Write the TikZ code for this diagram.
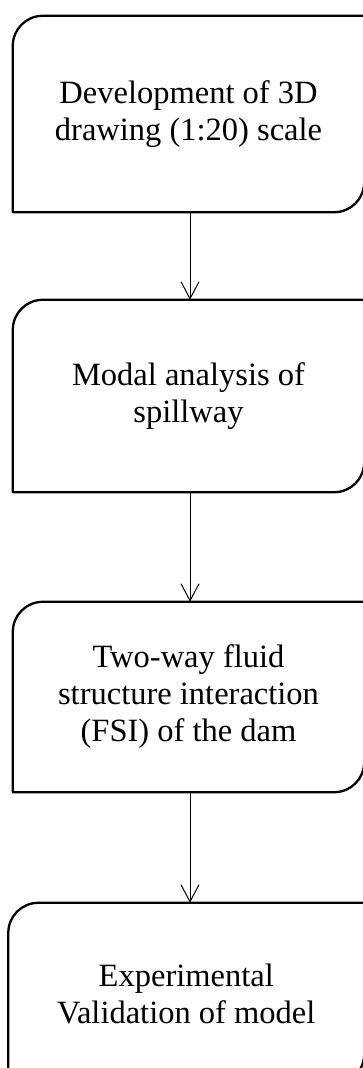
\documentclass[tikz,border=0pt]{standalone}
\usepackage{fontspec}
\setmainfont{Liberation Serif}
\usepackage{tikz}
\usetikzlibrary{arrows.meta}

\begin{document}
\begin{tikzpicture}[
          x=1pt, y=1pt,
          stage/.style={rectangle, inner sep=0pt, align=center,
                        minimum width=351pt,
                        font=\fontsize{32.5}{37}\selectfont},
          border/.style={draw=black, line width=2.3pt, line join=round},
          flow/.style={draw=black, line width=1pt,
                       -{Straight Barb[length=17pt, width=18pt, line width=1pt]}}
        ]
        \useasboundingbox (0,0) rectangle (363,-1068);

        % Stages
        \node[stage, minimum height=196pt] (draft) at (188.5,-114)
              {Development of 3D\\drawing (1:20) scale};
        \node[stage, minimum height=192pt] (modal) at (188.5,-396)
              {Modal analysis of\\spillway};
        \node[stage, minimum height=190pt] (fsi) at (188.5,-697)
              {Two-way fluid\\structure interaction\\(FSI) of the dam};
        \node[stage, minimum height=181pt, minimum width=355.5pt] (valid)
              at (186.25,-993.5) {Experimental\\Validation of model};

        % Outlines: top-left and bottom-right corners rounded
        \foreach \n in {draft, modal, fsi, valid}
          \draw[border] (\n.south west) -- ([yshift=-30pt]\n.north west)
                arc[start angle=180, end angle=90, radius=30pt]
                -- (\n.north east) -- ([yshift=30pt]\n.south east)
                arc[start angle=0, end angle=-90, radius=30pt] -- cycle;

        % Arrows between stages
        \draw[flow] (draft.south -| 190,0) -- (modal.north -| 190,0);
        \draw[flow] (modal.south -| 190,0) -- (fsi.north -| 190,0);
        \draw[flow] (fsi.south -| 190,0) -- (valid.north -| 190,0);
      \end{tikzpicture}
\end{document}
